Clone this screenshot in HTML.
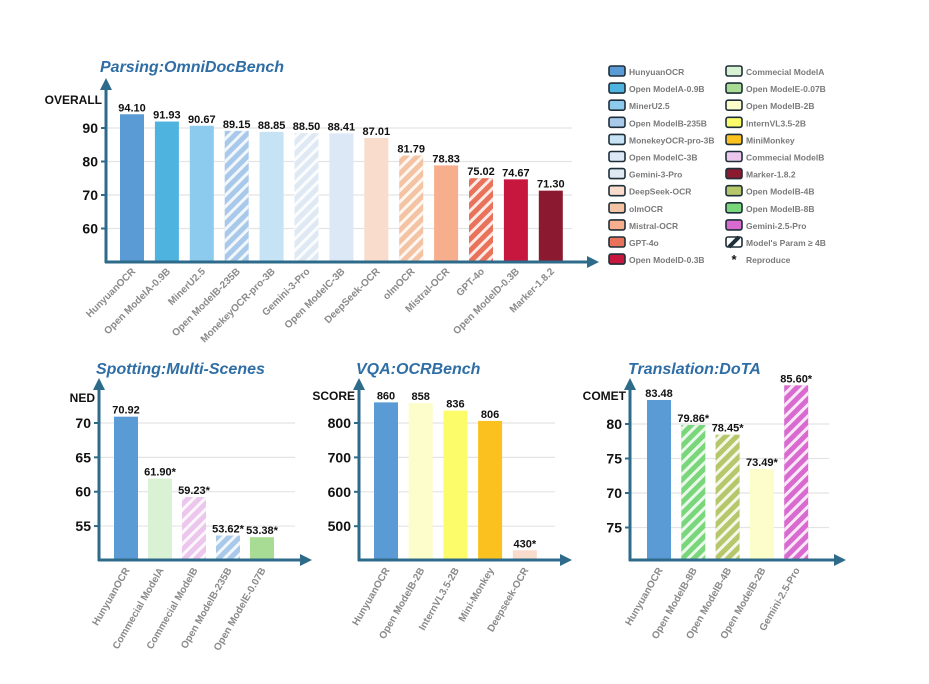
<!DOCTYPE html>
<html><head><meta charset="utf-8"><style>
html,body{margin:0;padding:0;background:#fff;}
svg{display:block;font-family:"Liberation Sans",sans-serif;}
</style></head><body>
<svg id="s" width="929" height="684" viewBox="0 0 929 684">
<defs>
<pattern id="hatch" patternUnits="userSpaceOnUse" width="8" height="8" patternTransform="rotate(45)">
<rect x="0" y="0" width="3" height="8" fill="#fff" fill-opacity="0.85"/>
</pattern>
<marker id="arr" viewBox="0 0 10 10" refX="5" refY="5" markerWidth="4" markerHeight="4" orient="auto-start-reverse"><path d="M0,0 L10,5 L0,10 z" fill="#2e6b8a"/></marker>
</defs>
</svg>
<script>
// ---- Chart 1: Parsing OmniDocBench
const parseCats=["HunyuanOCR","Open ModelA-0.9B","MinerU2.5","Open ModelB-235B","MonekeyOCR-pro-3B","Gemini-3-Pro","Open ModelC-3B","DeepSeek-OCR","olmOCR","Mistral-OCR","GPT-4o","Open ModelD-0.3B","Marker-1.8.2"];
const parseVals=[94.10,91.93,90.67,89.15,88.85,88.50,88.41,87.01,81.79,78.83,75.02,74.67,71.30];
const parseLabels=["94.10","91.93","90.67","89.15","88.85","88.50","88.41","87.01","81.79","78.83","75.02","74.67","71.30"];
const parseTicks=[60,70,80,90];
// ---- Chart 2: Spotting
const spotCats=["HunyuanOCR","Commecial ModelA","Commecial ModelB","Open ModelB-235B","Open ModelE-0.07B"];
const spotVals=[70.92,61.90,59.23,53.62,53.38];
const spotLabels=["70.92","61.90*","59.23*","53.62*","53.38*"];
const spotTicks=[55,60,65,70];
// ---- Chart 3: VQA
const vqaCats=["HunyuanOCR","Open ModelB-2B","InternVL3.5-2B","Mini-Monkey","Deepseek-OCR"];
const vqaVals=[860,858,836,806,430];
const vqaLabels=["860","858","836","806","430*"];
const vqaTicks=[500,600,700,800];
// ---- Chart 4: Translation
const trCats=["HunyuanOCR","Open ModelB-8B","Open ModelB-4B","Open ModelB-2B","Gemini-2.5-Pro"];
const trVals=[83.48,79.86,78.45,73.49,85.60];
const trLabels=["83.48","79.86*","78.45*","73.49*","85.60*"];
const trTicks=[65,70,75,80];
const trTickText=["75","70","75","80"];

const NS="http://www.w3.org/2000/svg";
const svg=document.getElementById('s');
function mk(t,a,p){const e=document.createElementNS(NS,t);for(const k in a)e.setAttribute(k,a[k]);(p||svg).appendChild(e);return e;}

function chart(o){
  const g=mk('g',{});
  
  
  const y=v=>o.yTop+(o.vTop-v)*o.ppu;
  // gridlines & ticks
  o.ticks.forEach((t,i)=>{
    const gl=mk('line',{x1:o.ax,x2:o.gridEnd,y1:y(t),y2:y(t),stroke:'#e4e4e4','stroke-width':1.2},g);
    
    
    mk('line',{x1:o.ax-5,x2:o.ax,y1:y(t),y2:y(t),stroke:'#2e6b8a','stroke-width':2},g);
    const tx=mk('text',{x:o.ax-8,y:y(t)+5,'text-anchor':'end','font-size':14,'font-weight':'bold',fill:'#111'},g);
    tx.textContent=o.tickText?o.tickText[i]:t;
    
    
  });
  // bars
  o.vals.forEach((v,i)=>{
    const cx=o.x0+i*o.step, top=y(v);
    const r=mk('rect',{x:cx-o.bw/2,y:top,width:o.bw,height:o.base-top,fill:o.colors[i]},g);
    
    
    if(o.hatch[i]){const h=mk('rect',{x:cx-o.bw/2,y:top,width:o.bw,height:o.base-top,fill:'url(#hatch)'},g);
      
      }
    const vl=mk('text',{x:cx,y:top-3,'text-anchor':'middle','font-size':11,'font-weight':'bold',fill:'#111'},g);
    vl.textContent=o.labels[i];
    
    
    const cl=mk('text',{x:0,y:0,'text-anchor':'end','font-size':10,'font-weight':'bold',fill:'#8a8a8a',transform:`translate(${cx+4},${o.base+10}) rotate(${o.rot})`},g);
    cl.textContent=o.cats[i];
    
    
  });
  // axes
  const ya=mk('line',{x1:o.ax,y1:o.base+1,x2:o.ax,y2:o.axTop,stroke:'#2e6b8a','stroke-width':3,'marker-end':'url(#arr)'},g);
  
  
  const xa=mk('line',{x1:o.ax-1,y1:o.base,x2:o.axEnd,y2:o.base,stroke:'#2e6b8a','stroke-width':3,'marker-end':'url(#arr)'},g);
  
  
  const yt=mk('text',{x:o.ax-4,y:o.yTitleY,'text-anchor':'end','font-size':12,'font-weight':'bold',fill:'#111'},g);
  yt.textContent=o.yTitle;
  
  
  const tt=mk('text',{x:o.titleX,y:o.titleY,'font-size':16,'font-weight':'bold','font-style':'italic',fill:'#2f6ea5'},g);
  tt.textContent=o.title;
  
  
}

chart({name:'parsing-chart',title:'Parsing:OmniDocBench',titleX:100,titleY:72,yTitle:'OVERALL',yTitleY:104,
  cats:parseCats,vals:parseVals,labels:parseLabels,ticks:parseTicks,
  colors:['#5b9bd5','#4fb3e0','#8ccbed','#a9c9ea','#c5e3f5','#dfe9f3','#dce8f5','#f9dccb','#f3c3a4','#f7ae8c','#e8735a','#c8173f','#8b1a30'],
  hatch:[0,0,0,1,0,1,0,0,1,0,1,0,0],
  ax:106,yTop:128,vTop:90,ppu:3.35,base:262,axTop:84,axEnd:593,gridEnd:572,x0:132,step:34.9,bw:24,rot:-45});
chart({name:'spotting-chart',title:'Spotting:Multi-Scenes',titleX:96,titleY:374,yTitle:'NED',yTitleY:402,
  cats:spotCats,vals:spotVals,labels:spotLabels,ticks:spotTicks,
  colors:['#5b9bd5','#d9f2d4','#ecc6ec','#a9c9ea','#a8db93'],hatch:[0,0,1,1,0],
  ax:99,yTop:423,vTop:70,ppu:6.87,base:560,axTop:384,axEnd:306,gridEnd:295,x0:126,step:34,bw:24,rot:-60});
chart({name:'vqa-chart',title:'VQA:OCRBench',titleX:356,titleY:374,yTitle:'SCORE',yTitleY:400,
  cats:vqaCats,vals:vqaVals,labels:vqaLabels,ticks:vqaTicks,
  colors:['#5b9bd5','#fdfccb','#fcfc6a','#fbc21f','#f9dccb'],hatch:[0,0,0,0,0],
  ax:359,yTop:423,vTop:800,ppu:0.344,base:560,axTop:384,axEnd:566,gridEnd:555,x0:386,step:34.7,bw:24,rot:-60});
chart({name:'translation-chart',title:'Translation:DoTA',titleX:628,titleY:374,yTitle:'COMET',yTitleY:400,
  cats:trCats,vals:trVals,labels:trLabels,ticks:trTicks,tickText:trTickText,
  colors:['#5b9bd5','#79d67a','#b5c76a','#fdfccb','#d96bd0'],hatch:[0,1,1,0,1],
  ax:630,yTop:424,vTop:80,ppu:6.9,base:560,axTop:384,axEnd:840,gridEnd:829,x0:659,step:34.3,bw:24,rot:-60});

// ---- Legend
const legNames=["HunyuanOCR","Open ModelA-0.9B","MinerU2.5","Open ModelB-235B","MonekeyOCR-pro-3B","Open ModelC-3B","Gemini-3-Pro","DeepSeek-OCR","olmOCR","Mistral-OCR","GPT-4o","Open ModelD-0.3B",
 "Commecial ModelA","Open ModelE-0.07B","Open ModelB-2B","InternVL3.5-2B","MiniMonkey","Commecial ModelB","Marker-1.8.2","Open ModelB-4B","Open ModelB-8B","Gemini-2.5-Pro","Model's Param ≥ 4B","Reproduce"];
const legColors=['#5b9bd5','#4fb3e0','#8ccbed','#a9c9ea','#c5e3f5','#dce8f5','#dfe9f3','#f9dccb','#f3c3a4','#f7ae8c','#e8735a','#c8173f',
 '#d9f2d4','#a8db93','#fdfccb','#fcfc6a','#fbc21f','#ecc6ec','#8b1a30','#b5c76a','#79d67a','#d96bd0','#fff',''];
const lg=mk('g',{});


legNames.forEach((n,i)=>{
  const col=Math.floor(i/12),row=i%12;
  const x=col?726:609,yy=66+row*17.1;
  const e=mk('g',{},lg);
  
  
  if(n==='Reproduce'){const s=mk('text',{x:x+8,y:yy+10,'text-anchor':'middle','font-size':13,'font-weight':'bold',fill:'#111'},e);s.textContent='*';}
  else{
    mk('rect',{x:x,y:yy,width:16,height:10,rx:2,fill:legColors[i],stroke:'#1f2f3a','stroke-width':1.6},e);
    if(n.startsWith("Model's")) mk('path',{d:`M${x+3},${yy+10} L${x+13},${yy}`,stroke:'#1f2f3a','stroke-width':4},e);
  }
  const t=mk('text',{x:x+20,y:yy+9,'font-size':8.5,'font-weight':'bold',fill:'#7a7a7a'},e);
  t.textContent=n;
});
</script>
</body></html>
